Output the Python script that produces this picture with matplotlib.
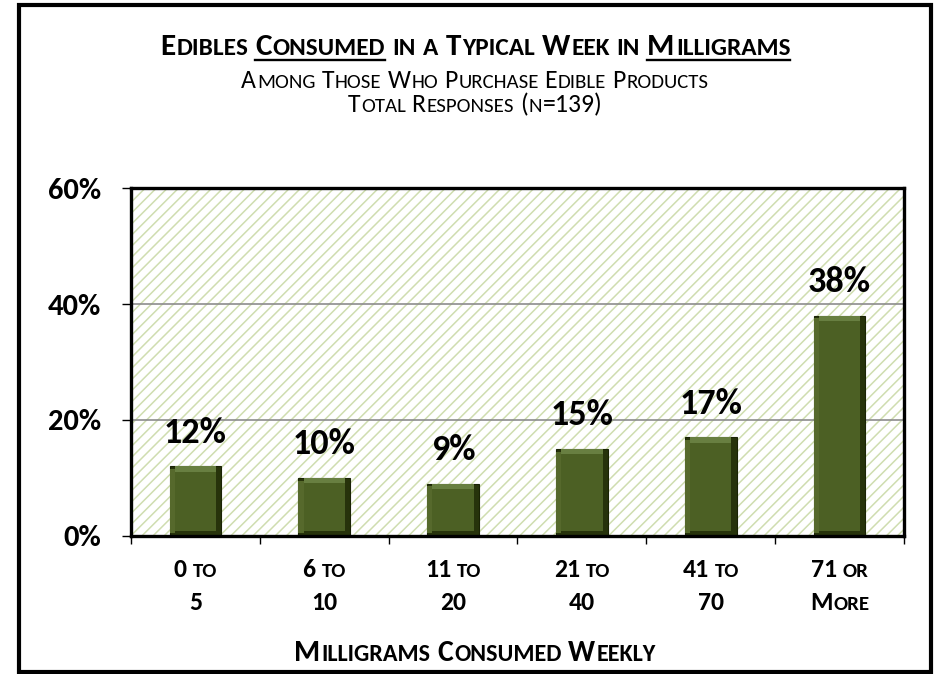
import matplotlib
matplotlib.use('Agg')
import matplotlib.pyplot as plt
import numpy as np
from matplotlib.patches import Rectangle
from matplotlib.lines import Line2D
from matplotlib.transforms import IdentityTransform

# data
categories = ['0 to\n5', '6 to\n10', '11 to\n20', '21 to\n40', '41 to\n70', '71 or\nMore']
values = [12, 10, 9, 15, 17, 38]
yticks = [0, 20, 40, 60]
ytick_labels = ['0%', '20%', '40%', '60%']

title = 'Edibles Consumed in a Typical Week in Milligrams'
subtitle1 = 'Among Those Who Purchase Edible Products'
subtitle2 = 'Total Responses (n=139)'
xtitle = 'Milligrams Consumed Weekly'

W, H = 936, 674
plt.rcParams['font.family'] = ['Carlito', 'DejaVu Sans']
plt.rcParams['hatch.linewidth'] = 1.1

fig = plt.figure(figsize=(W / 100, H / 100), dpi=100)
renderer = fig.canvas.get_renderer()
PIX = IdentityTransform()


def text_width(s, size, weight):
    t = fig.text(0, 0, s, fontsize=size, fontweight=weight, transform=PIX)
    w = t.get_window_extent(renderer).width
    t.remove()
    return w


def sc_runs(word, size, ratio):
    # split a word into runs of full-size capitals and shrunk "small caps"
    runs = []
    for ch in word:
        small = ch.islower()
        sz = size * ratio if small else size
        if runs and runs[-1][1] == sz:
            runs[-1][0] += ch.upper()
        else:
            runs.append([ch.upper(), sz])
    return runs


def smallcaps(xc, y, s, size, weight='bold', ratio=0.81, underline=()):
    # xc = centre, y = baseline, in pixels from bottom-left
    space = text_width('n n', size, weight) - text_width('nn', size, weight)
    layout, segs = [], []
    total = 0
    for i, word in enumerate(s.split(' ')):
        if i:
            total += space
        start = total
        runs = sc_runs(word, size, ratio)
        for j, (txt, sz) in enumerate(runs):
            layout.append((total, txt, sz))
            total += text_width(txt, sz, weight)
            if j < len(runs) - 1:
                total += sz * 0.05
        if word in underline:
            segs.append((start, total))
    x0 = xc - total / 2
    for off, txt, sz in layout:
        fig.text(x0 + off, y, txt, fontsize=sz, fontweight=weight,
                 ha='left', va='baseline', transform=PIX)
    for a, b in segs:
        fig.add_artist(Line2D([x0 + a, x0 + b], [y - 5, y - 5], lw=1.7,
                              color='black', transform=PIX))


# outer frame
fig.add_artist(Rectangle((19, 2), 912, 667, fill=False, lw=3, ec='black',
                         transform=PIX))

ax = fig.add_axes([131 / W, (H - 536) / H, (904 - 131) / W, (536 - 188) / H])
x = np.arange(len(values))
vals = np.array(values, dtype=float)
ax.set_xlim(-0.5, len(values) - 0.5)
ax.set_ylim(0, 60)

# hatched plot background
ax.add_patch(Rectangle((0, 0), 1, 1, transform=ax.transAxes, facecolor='white',
                       edgecolor='#cfddb0', lw=0, hatch='///', zorder=0))
ax.set_axisbelow(True)
ax.grid(axis='y', color='#8c8c8c', lw=1.2)

# bevelled bars
bw, bx, by = 0.4, 0.04, 0.9
ax.bar(x, vals, bw, color='#27330b', edgecolor='#1a2305', lw=0.8, zorder=2)
ax.bar(x - bw / 2 + bx / 2, vals - by, bx, bottom=by / 2, color='#56692c', lw=0, zorder=3)
ax.bar(x, vals - 2 * by, bw - 2 * bx, bottom=by, color='#4c6024', lw=0, zorder=3)
ax.bar(x, by, bw - 2 * bx, bottom=vals - by, color='#687f41', lw=0, zorder=3)

for xi, v in zip(x, values):
    ax.annotate(f'{v}%', (xi, v), xytext=(0, 17), textcoords='offset points',
                ha='center', va='baseline', fontsize=26, fontweight='bold')

ax.set_yticks(yticks)
ax.set_yticklabels(ytick_labels, fontsize=22, fontweight='bold')
ax.tick_params(axis='y', direction='out', length=6.5, width=1, pad=15)
ax.set_xticks(np.arange(-0.5, len(values)))
ax.set_xticklabels([])
ax.tick_params(axis='x', direction='out', length=6, width=1)
for sp in ax.spines.values():
    sp.set_linewidth(2.4)
    sp.set_color('black')

# category labels in small caps
for xi, lab in zip(x, categories):
    px = ax.transData.transform((xi, 0))[0]
    line1, line2 = lab.split('\n')
    smallcaps(px, H - 577, line1, 18.5)
    smallcaps(px, H - 610, line2, 18.5)

smallcaps(475, H - 55, title, 22.5, underline=('Consumed', 'Milligrams'))
smallcaps(475, H - 88, subtitle1, 18.5, weight='normal')
smallcaps(475, H - 112, subtitle2, 18.5, weight='normal')
smallcaps(475, H - 661, xtitle, 21.5)

fig.savefig('out.png', dpi=100)
